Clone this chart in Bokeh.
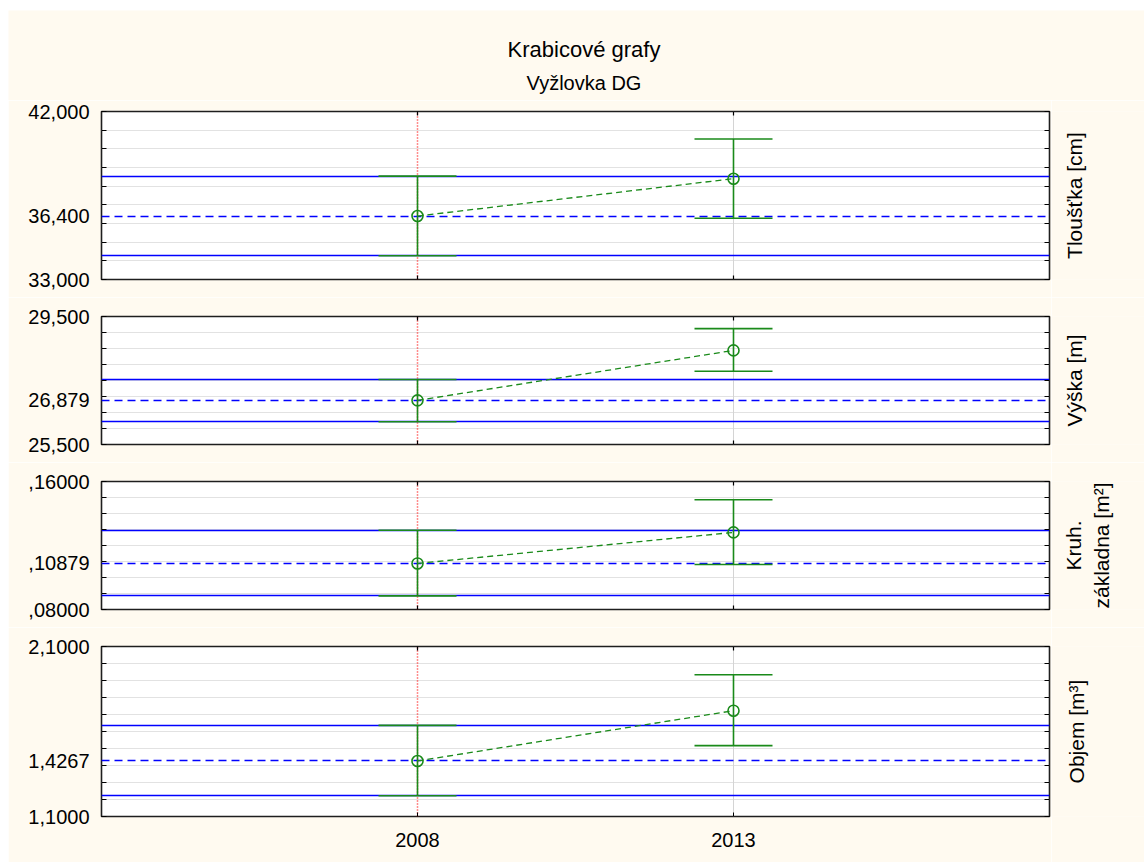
import numpy as np
from bokeh.plotting import figure
from bokeh.models import (FactorRange, Range1d, FixedTicker, LinearAxis,
                          Whisker, TeeHead, ColumnDataSource)
from bokeh.core.properties import value
from bokeh.layouts import column, row
from bokeh.embed import file_html
from bokeh.resources import INLINE

# ---------------- data ----------------
years = ["2008", "2013"]

thickness_mean = [36.4, 38.40]
thickness_lower = [34.27, 36.28]
thickness_upper = [38.54, 40.53]

height_mean = [26.879, 28.44]
height_lower = [26.21, 27.79]
height_upper = [27.53, 29.12]

basal_mean = [0.10879, 0.1282]
basal_lower = [0.0885, 0.1081]
basal_upper = [0.1295, 0.1486]

volume_mean = [1.4267, 1.7224]
volume_lower = [1.222, 1.517]
volume_upper = [1.636, 1.934]

axis_limits = [(33.0, 42.0), (25.5, 29.5), (0.08, 0.16), (1.1, 2.1)]
minor_steps = [1.0, 0.5, 0.01, 0.1]
tick_labels = [["33,000", "36,400", "42,000"],
               ["25,500", "26,879", "29,500"],
               [",08000", ",10879", ",16000"],
               ["1,1000", "1,4267", "2,1000"]]
panel_labels = ["Tloušťka [cm]", "Výška [m]", "Kruh.\nzákladna [m²]", "Objem [m³]"]
title_text = "Krabicové grafy"
subtitle_text = "Vyžlovka DG"

series = [(thickness_mean, thickness_lower, thickness_upper),
          (height_mean, height_lower, height_upper),
          (basal_mean, basal_lower, basal_upper),
          (volume_mean, volume_lower, volume_upper)]

# ---------------- style / layout ----------------
FONT = "Liberation Sans"
CREAM = "#fffaf0"
GREEN = "#1a8a1a"
BLUE = "#0000ff"
TOTAL_W = 1136
MAIN_W = 1043
LAB_W = TOTAL_W - MAIN_W
BL, BR = 93, 2
HEADER_H = 90
frame_h = [168, 128, 128, 170]
b_top = [11, 19, 19, 19]
b_bot = [18, 18, 18, 46]
label_x = [23, 23, 36, 25]


def plain(p):
    p.axis.visible = False
    p.grid.visible = False
    p.outline_line_color = None


# header with title and subtitle
header = figure(width=TOTAL_W, height=HEADER_H, x_range=Range1d(0, TOTAL_W), y_range=Range1d(0, HEADER_H),
                output_backend="svg", toolbar_location=None, min_border=0,
                background_fill_color=CREAM, border_fill_color=CREAM)
plain(header)
header.text(x=[575.5], y=[HEADER_H - 39.3], text=[title_text], text_align="center",
            text_baseline="alphabetic", text_font=value(FONT), text_font_size="22px",
            text_color="black")
header.text(x=[575.5], y=[HEADER_H - 72.7], text=[subtitle_text], text_align="center",
            text_baseline="alphabetic", text_font=value(FONT), text_font_size="20px",
            text_color="black")

rows = [header]
for i, (mean, lower, upper) in enumerate(series):
    lo, hi = axis_limits[i]
    step = minor_steps[i]
    minors = [float(v) for v in np.round(np.arange(lo, hi + step / 2, step), 6)]
    last = (i == len(series) - 1)
    fig_h = b_top[i] + frame_h[i] + b_bot[i]

    p = figure(width=MAIN_W, height=fig_h,
               x_range=FactorRange(factors=years, range_padding=0.5, range_padding_units="absolute"),
               y_range=Range1d(lo, hi),
               output_backend="svg", toolbar_location=None,
               min_border_left=BL, min_border_right=BR,
               min_border_top=b_top[i], min_border_bottom=b_bot[i],
               background_fill_color="white", border_fill_color=CREAM,
               outline_line_color="#1e1e1e", outline_line_width=1.6)

    # grids
    p.xgrid.visible = False
    p.ygrid.ticker = FixedTicker(ticks=minors)
    p.ygrid.grid_line_color = "#e2e2e2"
    p.ygrid.grid_line_width = 1.2
    p.segment(x0=[years[1]], y0=[lo], x1=[years[1]], y1=[hi],
              line_color="#d4d4d4", line_width=1)

    # reference marks
    p.segment(x0=[years[0]], y0=[lo], x1=[years[0]], y1=[hi],
              line_color="#ff1a1a", line_dash="1 2", line_width=1.5)
    p.hspan(y=[upper[0], lower[0]], line_color=BLUE, line_width=1.5)
    p.hspan(y=[mean[0]], line_color=BLUE, line_width=1.5, line_dash="8 5")

    # means connection
    p.line(x=years, y=mean, line_color=GREEN, line_width=1.3, line_dash="6 4")

    src = ColumnDataSource(dict(x=years, lower=lower, upper=upper))
    w = Whisker(base="x", lower="lower", upper="upper", source=src,
                line_color=GREEN, line_width=1.6, level="annotation",
                upper_head=TeeHead(size=78, line_color=GREEN, line_width=1.6),
                lower_head=TeeHead(size=78, line_color=GREEN, line_width=1.6))
    p.add_layout(w)
    p.scatter(x=years, y=mean, size=11, line_color=GREEN, fill_color=None, line_width=1.6)

    # inward category ticks on the frame edges (clipped to the frame)
    p.scatter(x=years, y=[hi] * len(years), marker="dash", angle=np.pi / 2, size=8,
              line_color="black", line_width=1.2)
    if not last:
        p.scatter(x=years, y=[lo] * len(years), marker="dash", angle=np.pi / 2, size=8,
                  line_color="black", line_width=1.2)

    # left axis
    ax = p.yaxis[0]
    ax.ticker = FixedTicker(ticks=[lo, mean[0], hi], minor_ticks=minors)
    ax.major_label_overrides = {lo: tick_labels[i][0], mean[0]: tick_labels[i][1], hi: tick_labels[i][2]}
    ax.major_tick_in = 0
    ax.major_tick_out = 0
    ax.minor_tick_in = 5
    ax.minor_tick_out = 0
    ax.minor_tick_line_color = "black"
    ax.axis_line_color = None
    ax.major_label_text_font = FONT
    ax.major_label_text_font_size = "20px"
    ax.major_label_text_color = "black"
    ax.major_label_standoff = 12

    # right axis (ticks only)
    rax = LinearAxis(ticker=FixedTicker(ticks=[], minor_ticks=minors),
                     major_tick_in=0, major_tick_out=0,
                     minor_tick_in=5, minor_tick_out=0, minor_tick_line_color="black",
                     axis_line_color=None)
    p.add_layout(rax, "right")

    # bottom axis
    bx = p.xaxis[0]
    if last:
        bx.major_tick_in = 4
        bx.major_tick_out = 0
        bx.major_tick_line_color = "black"
        bx.axis_line_color = None
        bx.major_label_text_font = FONT
        bx.major_label_text_font_size = "20px"
        bx.major_label_text_color = "black"
        bx.major_label_standoff = 16
    else:
        bx.visible = False

    # right-hand panel label, reading bottom-to-top
    lab = figure(width=LAB_W, height=fig_h, x_range=Range1d(0, LAB_W), y_range=Range1d(0, 1),
                 output_backend="svg", toolbar_location=None,
                 min_border_left=0, min_border_right=0,
                 min_border_top=b_top[i], min_border_bottom=b_bot[i],
                 background_fill_color=CREAM, border_fill_color=CREAM)
    plain(lab)
    lab.text(x=[label_x[i]], y=[0.5], text=[panel_labels[i]], angle=np.pi / 2,
             text_align="center", text_baseline="middle", text_font=value(FONT),
             text_font_size="21px", text_color="black", text_line_height=1.25)

    rows.append(row(p, lab, spacing=0))

layout = column(*rows, spacing=0, margin=(10, 0, 0, 8))
open("out.html", "w").write(file_html(layout, INLINE))
